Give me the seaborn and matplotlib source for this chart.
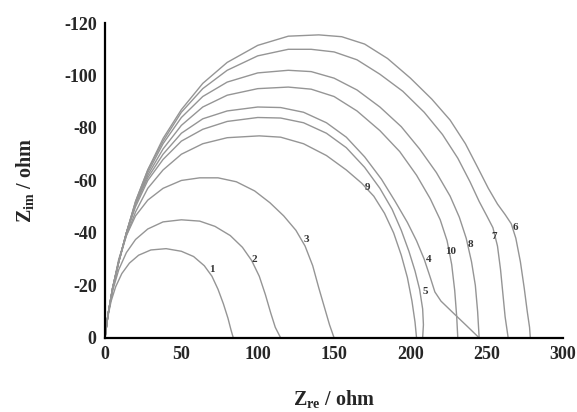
import pandas as pd
import seaborn as sns
from matplotlib import pyplot as plt
import matplotlib as mpl

sns.set_style('white')
mpl.rcParams['font.family'] = ['Liberation Serif', 'DejaVu Serif']
mpl.rcParams['font.weight'] = 'bold'
mpl.rcParams['axes.unicode_minus'] = False
mpl.rcParams['mathtext.fontset'] = 'custom'
mpl.rcParams['mathtext.rm'] = 'Liberation Serif:bold'
mpl.rcParams['mathtext.bf'] = 'Liberation Serif:bold'
mpl.rcParams['mathtext.it'] = 'Liberation Serif:bold'

# Nyquist curves, Zre / Zim in ohm
x1 = [0, 1.5, 4, 7, 11, 16, 22, 30, 40, 50, 58, 65, 70, 74, 77.5, 80.5, 82.5, 84]
y1 = [0, -7, -14, -19.5, -24.5, -28.5, -31.5, -33.5, -34, -33, -31, -27.5, -23.5, -18.5, -13, -7.5, -3, 0]

x2 = [0, 2, 5, 9, 14, 20, 28, 38, 50, 62, 72, 82, 90, 96, 101, 105, 108.5, 111.5, 115]
y2 = [0, -9, -18, -26, -32.5, -37.5, -41.5, -44.2, -45, -44.5, -42.5, -39, -34.5, -29.5, -23.5, -16.5, -9.5, -4, 0]

x3 = [0, 2, 5, 9, 14, 20, 28, 38, 50, 62, 74, 86, 98, 108, 117, 125, 131, 136, 140, 144, 147, 150]
y3 = [0, -9, -19, -30, -39, -46.5, -52.5, -57, -60, -61, -61, -59.5, -56, -51.5, -46.5, -41, -35, -27.5, -19, -11, -5, 0]

x4 = [0, 2, 5, 9, 14, 20, 28, 38, 50, 64, 80, 100, 115, 130, 145, 158, 170, 181, 190, 198, 204, 209,
      213, 216, 220, 228, 237, 245]
y4 = [0, -9, -19, -29, -40, -51, -61, -70, -78, -83.5, -86.5, -88, -87.8, -86, -82, -76.5, -69, -60.5,
      -52, -44, -37, -30, -23, -17.5, -14, -9.5, -4.5, 0]

x5 = [0, 2, 5, 9, 14, 20, 28, 38, 50, 64, 80, 100, 115, 130, 145, 158, 170, 180, 188, 194, 199, 203,
      206, 208, 208.5, 208]
y5 = [0, -9, -19, -29, -40, -50, -60, -68, -75, -79.5, -82.5, -84, -83.8, -82, -78, -72.5, -65, -57,
      -49, -41, -33, -25.5, -18.5, -11, -5, 0]

x6 = [0, 2, 5, 9, 14, 20, 28, 38, 50, 64, 80, 100, 120, 140, 155, 170, 185, 200, 214, 226, 236, 244,
      251, 257, 262, 266, 269, 272, 274.5, 276.5, 278, 278.5]
y6 = [0, -9, -19, -29, -40, -52, -64, -76, -87, -97, -105, -111.5, -115, -115.5, -114.8, -112, -106.5,
      -99, -91, -83, -74, -65, -57, -51, -47, -43.5, -38, -29, -19, -10, -4, 0]

x7 = [0, 2, 5, 9, 14, 20, 28, 38, 50, 64, 80, 100, 120, 135, 150, 165, 180, 195, 209, 221, 231, 239,
      245, 250, 254, 257, 259, 260.5, 262, 263.5, 264]
y7 = [0, -9, -19, -29, -40, -52, -64, -75, -86, -95, -102, -107.5, -110, -110, -109, -106, -100.5,
      -94, -86, -77.5, -68.5, -59.5, -52, -46.5, -42, -35, -26, -17, -8, -2, 0]

x8 = [0, 2, 5, 9, 14, 20, 28, 38, 50, 64, 80, 100, 120, 135, 150, 165, 180, 194, 206, 217, 226, 232,
      236.5, 240, 242.5, 244, 245]
y8 = [0, -9, -19, -29, -40, -51.5, -63, -74, -84, -92, -97.5, -101, -102, -101.5, -99, -94.5, -88,
      -80.5, -72, -63, -54, -46, -38, -29, -20, -10, 0]

x9 = [0, 2, 5, 9, 14, 20, 28, 38, 50, 64, 80, 101, 115, 130, 145, 158, 168, 176, 183, 189, 194, 198,
      201, 203, 204]
y9 = [0, -9, -19, -29, -39, -48, -57, -64, -70, -74, -76.3, -77, -76.5, -74, -69.5, -64, -59, -54,
      -47.5, -40, -31.5, -23, -14, -6, 0]

x10 = [0, 2, 5, 9, 14, 20, 28, 38, 50, 64, 80, 100, 120, 135, 150, 165, 180, 193, 204, 213, 219.5,
       224, 227, 229, 230.3, 231]
y10 = [0, -9, -19, -29, -40, -51, -62, -72, -81, -88, -92.5, -95, -95.6, -94.8, -92, -86.5, -79, -71,
       -62, -53, -45, -37, -28, -18, -8, 0]

curve_names = ['1', '2', '3', '4', '5', '6', '7', '8', '9', '10']
curve_x = [x1, x2, x3, x4, x5, x6, x7, x8, x9, x10]
curve_y = [y1, y2, y3, y4, y5, y6, y7, y8, y9, y10]

# where the curve numbers sit
label_x = [70, 98, 132, 212, 210, 268.5, 255, 239, 172, 226]
label_y = [-26, -30, -37.5, -30, -17.5, -42, -38.5, -35.5, -57.5, -33]

frames = []
for name, xs, ys in zip(curve_names, curve_x, curve_y):
    frames.append(pd.DataFrame({'Zre': xs, 'Zim': ys, 'curve': name}))
df = pd.concat(frames, ignore_index=True)

fig = plt.figure(figsize=(5.77, 4.12), dpi=100)
ax = fig.add_axes([0.182, 0.18, 0.794, 0.764])

sns.lineplot(data=df, x='Zre', y='Zim', units='curve', estimator=None,
             sort=False, color='#959595', linewidth=1.0, ax=ax)

for name, lx, ly in zip(curve_names, label_x, label_y):
    ax.text(lx, ly, name, fontsize=8, color='#333333', ha='center', va='center')

ax.set_xlim(0, 300)
ax.set_ylim(0, -120)
ax.set_xticks([0, 50, 100, 150, 200, 250, 300])
ax.set_yticks([0, -20, -40, -60, -80, -100, -120])
ax.tick_params(length=0, labelsize=13, pad=6)
for lab in ax.get_xticklabels() + ax.get_yticklabels():
    lab.set_fontweight('bold')

sns.despine(ax=ax)
ax.spines['left'].set_linewidth(1.6)
ax.spines['bottom'].set_linewidth(1.6)
ax.spines['left'].set_color('black')
ax.spines['bottom'].set_color('black')

ax.set_xlabel(r'$\mathregular{Z_{re}}$ / ohm', fontsize=14.5, fontweight='bold', labelpad=18)
ax.set_ylabel(r'$\mathregular{Z_{im}}$ / ohm', fontsize=14.5, fontweight='bold', labelpad=20)

plt.savefig('out.png', dpi=100)
